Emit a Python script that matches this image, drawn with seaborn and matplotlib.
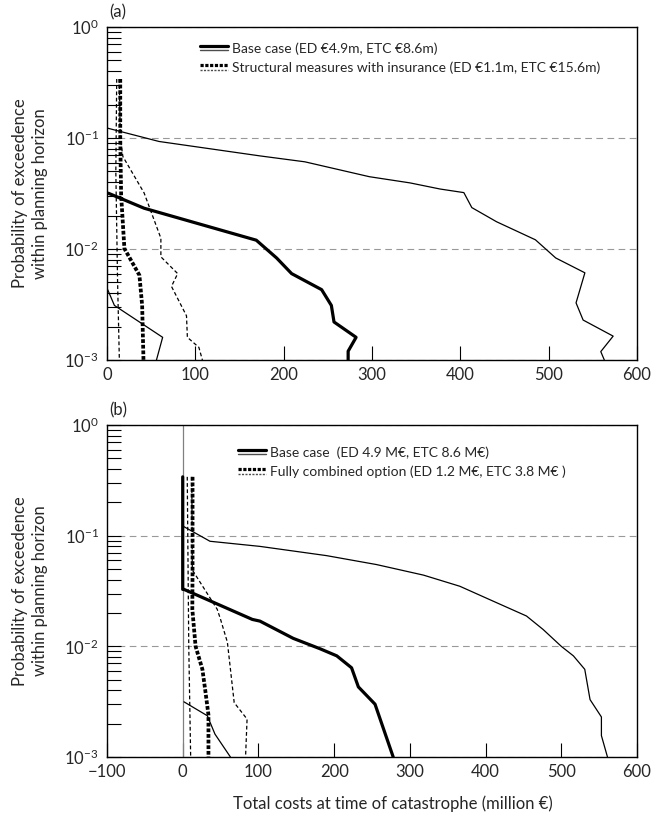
import numpy as np
import pandas as pd
import matplotlib.pyplot as plt
import seaborn as sns
from matplotlib.lines import Line2D
from matplotlib.legend_handler import HandlerBase
from matplotlib.ticker import LogLocator, NullLocator, MultipleLocator

# ---- panel (a) ----
a_base_thin_x = [0, 59, 173, 224, 297, 343, 377, 404, 413, 441, 485, 508, 541, 531, 539, 573, 559, 563]
a_base_thin_p = [0.123, 0.093, 0.069, 0.061, 0.0448, 0.0394, 0.0347, 0.0322, 0.0236, 0.0176, 0.0121,
                 0.0083, 0.0061, 0.00327, 0.00229, 0.00164, 0.00119, 0.001]
a_base_thick_x = [1.5, 42, 169, 192, 209, 243, 254, 257, 282, 273, 273]
a_base_thick_p = [0.0318, 0.0233, 0.012, 0.0083, 0.006, 0.0043, 0.0031, 0.0022, 0.0016, 0.0012, 0.001]
a_base_low_x = [0.8, 8.4, 63, 56]
a_base_low_p = [0.0043, 0.0031, 0.0016, 0.001]
a_opt_thick_x = [15, 15, 16, 19.7, 36.7, 39.8, 41.3]
a_opt_thick_p = [0.34, 0.1, 0.0306, 0.0101, 0.0058, 0.0031, 0.001]
a_opt_thin_x = [14, 15, 18, 42, 61, 61, 80, 73, 90, 91, 104, 108]
a_opt_thin_p = [0.34, 0.1, 0.068, 0.032, 0.0125, 0.0085, 0.006, 0.0046, 0.0025, 0.0016, 0.0013, 0.001]
a_opt_low_x = [11, 10, 12, 14]
a_opt_low_p = [0.34, 0.05, 0.005, 0.001]

# ---- panel (b) ----
b_base_thin_x = [1.2, 36, 102, 190, 256, 318, 366, 410, 454, 476, 500, 516, 531, 538, 553, 553, 561]
b_base_thin_p = [0.121, 0.089, 0.080, 0.066, 0.0548, 0.044, 0.0349, 0.0256, 0.0188, 0.0142, 0.01,
                 0.0082, 0.0062, 0.0033, 0.0023, 0.00156, 0.001]
b_base_thick_x = [0, 0, 1.7, 92, 102, 146, 181.5, 203.5, 223, 232, 254, 278]
b_base_thick_p = [0.34, 0.0327, 0.0327, 0.0175, 0.0169, 0.0118, 0.0095, 0.0082, 0.0064, 0.0043, 0.003, 0.001]
b_base_low_x = [1.7, 32.5, 42.6, 63]
b_base_low_p = [0.00315, 0.00236, 0.00161, 0.001]
b_opt_thick_x = [13, 13, 12.7, 17, 26, 30, 34, 34]
b_opt_thick_p = [0.34, 0.05, 0.0216, 0.01, 0.0062, 0.0039, 0.0024, 0.001]
b_opt_thin_x = [12, 12.7, 45.6, 50, 59, 68, 85, 83]
b_opt_thin_p = [0.34, 0.049, 0.0216, 0.0175, 0.0109, 0.0031, 0.0022, 0.001]
b_opt_low_x = [6, 8, 10.5]
b_opt_low_p = [0.34, 0.01, 0.001]

labels_a = ["Base case (ED €4.9m, ETC €8.6m)",
            "Structural measures with insurance (ED €1.1m, ETC €15.6m)"]
labels_b = ["Base case  (ED 4.9 M€, ETC 8.6 M€)",
            "Fully combined option (ED 1.2 M€, ETC 3.8 M€ )"]

THICK_DOT = (0, (1, 0.5))
THIN_DOT = (0, (3, 2))
styles = {
    "thick": dict(lw=2.3, ls="-"),
    "thin": dict(lw=0.9, ls="-"),
    "thickdot": dict(lw=2.7, ls=THICK_DOT),
    "thindot": dict(lw=0.9, ls=THIN_DOT),
}

sns.set_style("ticks")
plt.rcParams["font.family"] = ["Lato", "DejaVu Sans"]
plt.rcParams["axes.unicode_minus"] = True


class DoubleLine(HandlerBase):
    def create_artists(self, legend, orig_handle, xdescent, ydescent, width, height, fontsize, trans):
        ls = orig_handle.get_linestyle()
        dot = ls not in ("-", "solid")
        yc = height / 2 - ydescent
        x0, x1 = -xdescent, width - xdescent
        top = Line2D([x0, x1], [yc + 1.7, yc + 1.7], color="k", lw=2.3,
                     ls=THICK_DOT if dot else "-", transform=trans)
        bot = Line2D([x0, x1], [yc - 1.7, yc - 1.7], color="0.3", lw=1.0,
                     ls=(0, (1.5, 1)) if dot else "-", transform=trans)
        return [top, bot]


def draw(ax, x, p, kind):
    df = pd.DataFrame({"x": x, "p": p})
    sns.lineplot(data=df, x="x", y="p", sort=False, estimator=None, ax=ax,
                 color="k", **styles[kind])


fig = plt.figure(figsize=(6.54, 8.23), dpi=100)
ax_a = fig.add_axes([0.1636, 0.5626, 0.8104, 0.4046])
ax_b = fig.add_axes([0.1636, 0.0802, 0.8104, 0.4034])

draw(ax_a, a_base_thin_x, a_base_thin_p, "thin")
draw(ax_a, a_base_thick_x, a_base_thick_p, "thick")
draw(ax_a, a_base_low_x, a_base_low_p, "thin")
draw(ax_a, a_opt_low_x, a_opt_low_p, "thindot")
draw(ax_a, a_opt_thin_x, a_opt_thin_p, "thindot")
draw(ax_a, a_opt_thick_x, a_opt_thick_p, "thickdot")

ax_b.axvline(0, color="0.5", lw=0.9, zorder=1)
draw(ax_b, b_base_thin_x, b_base_thin_p, "thin")
draw(ax_b, b_base_thick_x, b_base_thick_p, "thick")
draw(ax_b, b_base_low_x, b_base_low_p, "thin")
draw(ax_b, b_opt_low_x, b_opt_low_p, "thindot")
draw(ax_b, b_opt_thin_x, b_opt_thin_p, "thindot")
draw(ax_b, b_opt_thick_x, b_opt_thick_p, "thickdot")

for ax, xmin, labels, anchor, tag in [(ax_a, 0, labels_a, (0.17, 0.962), "(a)"),
                                      (ax_b, -100, labels_b, (0.2425, 0.944), "(b)")]:
    ax.set_yscale("log")
    ax.set_ylim(1e-3, 1)
    ax.set_xlim(xmin, 600)
    ax.xaxis.set_major_locator(MultipleLocator(100))
    ax.xaxis.set_minor_locator(NullLocator())
    ax.yaxis.set_major_locator(LogLocator(base=10))
    ax.yaxis.set_minor_locator(LogLocator(base=10, subs=np.arange(2, 10)))
    ax.yaxis.grid(True, which="major", color="0.6", ls=(0, (6, 4)), lw=0.8)
    ax.xaxis.grid(False)
    ax.tick_params(axis="both", which="both", direction="in", length=10, width=0.8,
                   labelsize=12, color="k")
    ax.tick_params(axis="x", pad=5)
    ax.tick_params(axis="y", pad=6)
    for s in ax.spines.values():
        s.set_visible(True)
        s.set_linewidth(1.0)
        s.set_color("k")
    ax.set_ylabel("Probability of exceedence\nwithin planning horizon", fontsize=12, linespacing=1.3)
    ax.yaxis.set_label_coords(-0.112, 0.5)
    ax.set_xlabel("")
    handles = [Line2D([], [], ls="-"), Line2D([], [], ls=":")]
    ax.legend(handles, labels, handler_map={Line2D: DoubleLine()}, loc="upper left",
              bbox_to_anchor=anchor, frameon=False, fontsize=10, handlelength=2.0,
              handletextpad=0.3, labelspacing=0.5, borderpad=0.2, borderaxespad=0)
    ax.text(0.005, 1.02, tag, transform=ax.transAxes, fontsize=12, ha="left", va="bottom")

ax_b.set_xlabel("Total costs at time of catastrophe (million €)", fontsize=12)
ax_b.xaxis.set_label_coords(0.54, -0.115)

fig.savefig("out.png", dpi=100)
